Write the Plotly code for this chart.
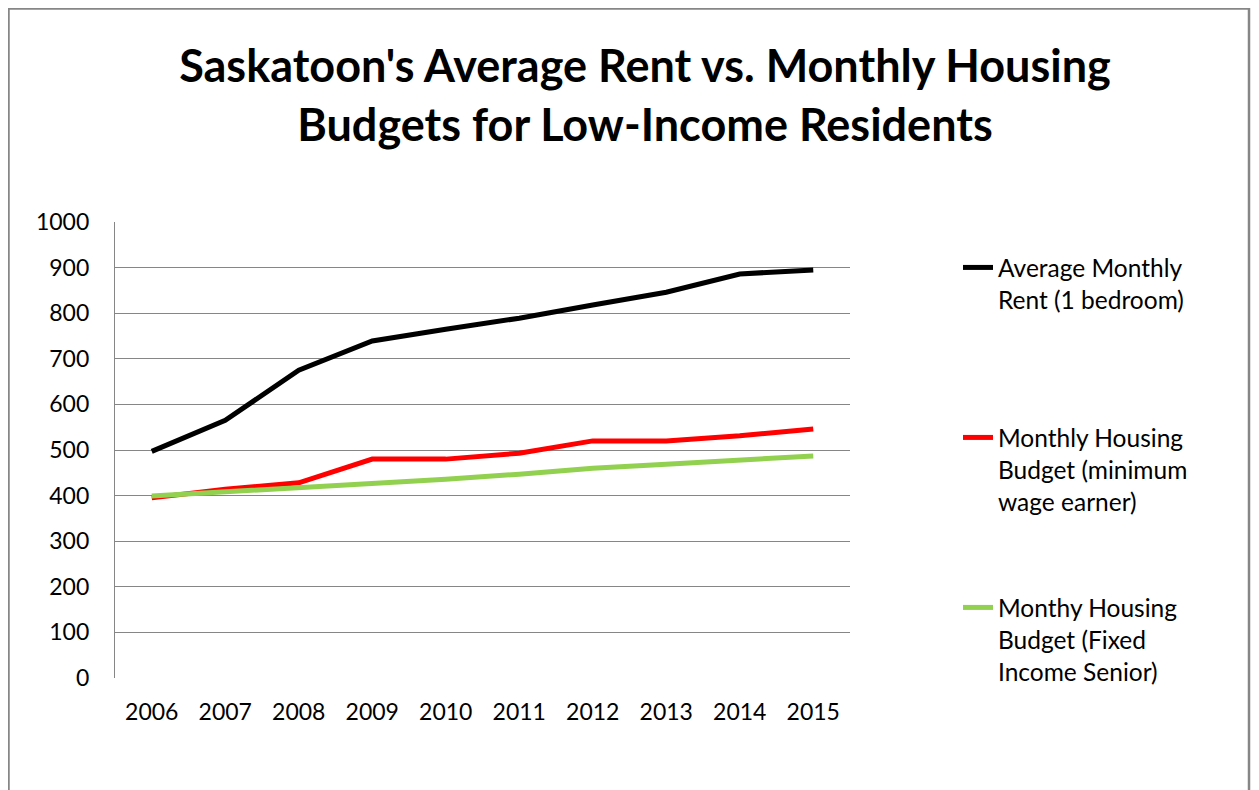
import plotly.graph_objects as go

years = [2006, 2007, 2008, 2009, 2010, 2011, 2012, 2013, 2014, 2015]
avg_rent = [497, 565, 675, 739, 765, 789, 818, 846, 886, 895]
min_wage_budget = [395, 414, 428, 480, 480, 493, 520, 520, 531, 546]
senior_budget = [399, 408, 417, 428, 436, 447, 460, 469, 478, 487]

names = [
    "Average Monthly<br>Rent (1 bedroom)",
    "Monthly Housing<br>Budget (minimum<br>wage earner)",
    "Monthy Housing<br>Budget (Fixed<br>Income Senior)",
]
colors = ["#000000", "#FF0000", "#92D050"]
series = [avg_rent, min_wage_budget, senior_budget]
y_ticks = [0, 100, 200, 300, 400, 500, 600, 700, 800, 900, 1000]

FONT = "Lato"
OFF = 8  # page body margin
W, H = 1259 - 2 * OFF, 790
L, R, T, B = 115, 850, 222, 678  # target screen coords of plot area

fig = go.Figure()
legend_ids = ["legend", "legend2", "legend3"]
for name, vals, col, lg in zip(names, series, colors, legend_ids):
    fig.add_trace(go.Scatter(
        x=years, y=vals, name=name, mode="lines",
        line=dict(color=col, width=5),
        legend=lg,
    ))

pw, ph = R - L, B - T
def px_x(p):
    return (p - L) / pw
def px_y(p):
    return (B - p) / ph

leg_common = dict(font=dict(family=FONT, size=24.5, color="#000000"),
                  bgcolor="rgba(0,0,0,0)", valign="top",
                  xanchor="left", yanchor="top", itemwidth=30)
legend_tops = [245, 415, 585]
legend_left = 958

fig.update_layout(
    width=W, height=H,
    margin=dict(l=L - OFF, r=W - (R - OFF), t=T - OFF, b=H - (B - OFF)),
    paper_bgcolor="white", plot_bgcolor="white",
    title=dict(
        text="Saskatoon's Average Rent vs. Monthly Housing<br>Budgets for Low-Income Residents",
        font=dict(family=FONT, size=45, color="#000000", weight="bold"),
        x=(645 - OFF) / W, xref="container", xanchor="center",
        y=1 - 74 / H, yref="container", yanchor="middle",
    ),
    xaxis=dict(
        range=[2005.5, 2015.5], tickmode="array", tickvals=years,
        ticktext=[str(y) for y in years],
        showgrid=False, zeroline=False, showline=False, ticks="",
        tickfont=dict(family=FONT, size=23, color="#000000"),
        ticklabelstandoff=18,
    ),
    yaxis=dict(
        range=[0, 1000], tickmode="array", tickvals=y_ticks,
        showgrid=True, gridcolor="#868686", gridwidth=1.3,
        zeroline=False, showline=True, linecolor="#868686", linewidth=1.3,
        ticks="", tickfont=dict(family=FONT, size=23, color="#000000"),
        ticklabelstandoff=20,
    ),
    legend=dict(x=px_x(legend_left), y=px_y(legend_tops[0]), **leg_common),
    legend2=dict(x=px_x(legend_left), y=px_y(legend_tops[1]), **leg_common),
    legend3=dict(x=px_x(legend_left), y=px_y(legend_tops[2]), **leg_common),
    shapes=[dict(type="rect", xref="paper", yref="paper",
                 x0=px_x(8.5), x1=px_x(1249), y0=px_y(830), y1=px_y(8.5),
                 line=dict(color="#868686", width=2.5), layer="below")],
    showlegend=True,
)

fig.write_html("out.html")
